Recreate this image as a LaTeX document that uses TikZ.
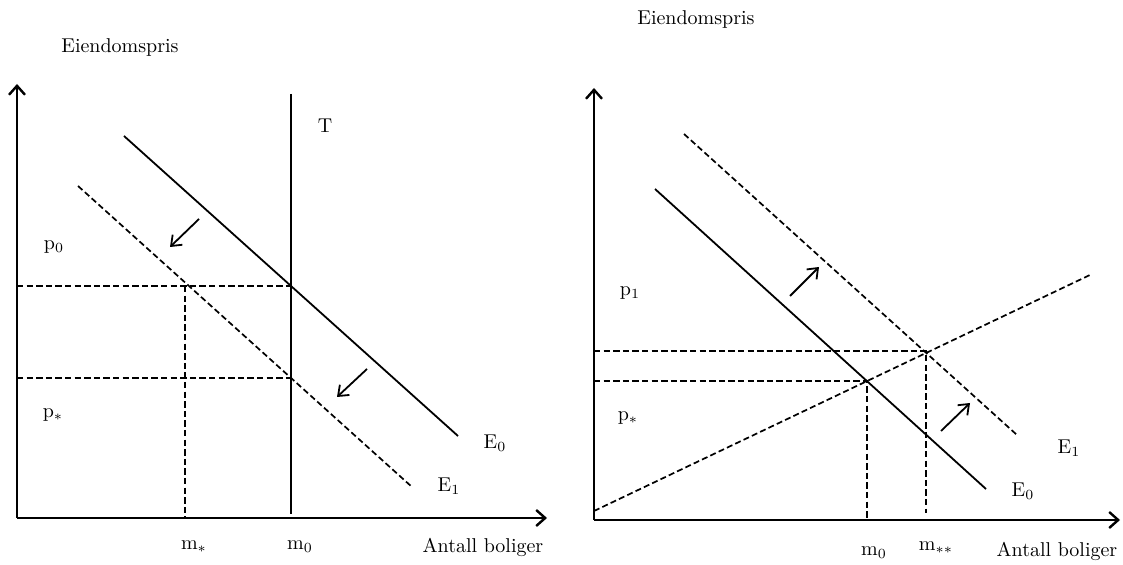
\documentclass[tikz,border=0pt]{standalone}
\usepackage{tikz}
\usetikzlibrary{arrows.meta}
\tikzset{
  axis/.style={-{Straight Barb[length=4.5pt,width=8pt]},line width=1.2pt},
  curve/.style={line width=0.9pt},
  tline/.style={line width=1.1pt},
  dcurve/.style={line width=0.85pt,dash pattern=on 3pt off 1.6pt},
  guide/.style={line width=1pt,dash pattern=on 3.2pt off 1.6pt},
  shiftarrow/.style={-{Straight Barb[length=4.5pt,width=7pt]},line width=0.9pt},
  lbl/.style={inner sep=0pt,font=\normalsize},
}
\begin{document}
\begin{tikzpicture}[x=0.5pt,y=-0.5pt]
  \useasboundingbox (0,0) rectangle (1123,565);
  % ---- left panel: axes ----
  \coordinate (lO) at (17,518);
  \coordinate (lYtop) at (17,84);
  \coordinate (lXend) at (547,518);
  \draw[axis] (lO) -- (lYtop);
  \draw[axis] (lO) -- (lXend);
  \node[lbl] (lYlab) at (120,48) {Eiendomspris};
  \node[lbl] (lXlab) at (483,547) {Antall boliger};
  % ---- left panel: curves ----
  \coordinate (Ttop) at (291,94);
  \coordinate (Tbot) at (291,514);
  \coordinate (lE0a) at (124,136);
  \coordinate (lE0b) at (458,436);
  \coordinate (lE1a) at (78,186);
  \coordinate (lE1b) at (412,487);
  \draw[tline] (Ttop) -- (Tbot);
  \draw[curve] (lE0a) -- (lE0b);
  \draw[dcurve] (lE1a) -- (lE1b);
  \node[lbl] (lT) at (325,126) {T};
  \node[lbl] (lE0) at (495,443) {E$_0$};
  \node[lbl] (lE1) at (449,486) {E$_1$};
  % ---- left panel: guides ----
  \coordinate (lp0) at (17,286);
  \coordinate (lq0) at (291,286);
  \coordinate (lps) at (17,378);
  \coordinate (lqs) at (291,378);
  \coordinate (lmsTop) at (185,286);
  \coordinate (lmsBot) at (185,518);
  \draw[guide] (lp0) -- (lq0);
  \draw[guide] (lps) -- (lqs);
  \draw[guide] (lmsTop) -- (lmsBot);
  \node[lbl] (lP0) at (54,247) {p$_0$};
  \node[lbl] (lPs) at (53,415) {p$_*$};
  \node[lbl] (lMs) at (194,547) {m$_*$};
  \node[lbl] (lM0) at (300,547) {m$_0$};
  % ---- left panel: shift arrows ----
  \coordinate (la1) at (199,219);
  \coordinate (lb1) at (170,247);
  \coordinate (la2) at (367,369);
  \coordinate (lb2) at (337,397);
  \draw[shiftarrow] (la1) -- (lb1);
  \draw[shiftarrow] (la2) -- (lb2);
  % ---- right panel: axes ----
  \coordinate (rO) at (594,520);
  \coordinate (rYtop) at (594,88);
  \coordinate (rXend) at (1120,520);
  \draw[axis] (rO) -- (rYtop);
  \draw[axis] (rO) -- (rXend);
  \node[lbl] (rYlab) at (696,20) {Eiendomspris};
  \node[lbl] (rXlab) at (1057,551) {Antall boliger};
  % ---- right panel: curves ----
  \coordinate (rE0a) at (655,189);
  \coordinate (rE0b) at (986,489);
  \coordinate (rE1a) at (684,134);
  \coordinate (rE1b) at (1017,435);
  \coordinate (rSa) at (594,511);
  \coordinate (rSb) at (1092,274);
  \draw[curve] (rE0a) -- (rE0b);
  \draw[dcurve] (rE1a) -- (rE1b);
  \draw[dcurve] (rSa) -- (rSb);
  \node[lbl] (rE0) at (1023,491) {E$_0$};
  \node[lbl] (rE1) at (1069,448) {E$_1$};
  % ---- right panel: guides ----
  \coordinate (rp1) at (594,351);
  \coordinate (rq1) at (926,351);
  \coordinate (rps) at (594,381);
  \coordinate (rqs) at (867,381);
  \coordinate (rm0Bot) at (867,519);
  \coordinate (rm1Bot) at (926,513);
  \draw[guide] (rp1) -- (rq1) -- (rm1Bot);
  \draw[guide] (rps) -- (rqs) -- (rm0Bot);
  \node[lbl] (rP1) at (630,293) {p$_1$};
  \node[lbl] (rPs) at (628,418) {p$_*$};
  \node[lbl] (rM0) at (874,553) {m$_0$};
  \node[lbl] (rM1) at (936,548) {m$_{**}$};
  % ---- right panel: shift arrows ----
  \coordinate (ra1) at (790,296);
  \coordinate (rb1) at (819,267);
  \coordinate (ra2) at (941,431);
  \coordinate (rb2) at (970,403);
  \draw[shiftarrow] (ra1) -- (rb1);
  \draw[shiftarrow] (ra2) -- (rb2);
\end{tikzpicture}
\end{document}
